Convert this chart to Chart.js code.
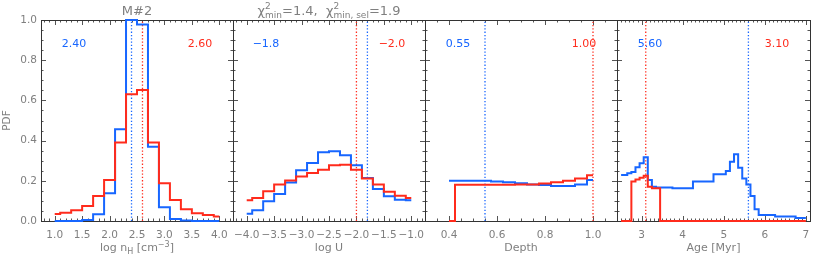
<!DOCTYPE html>
<html>
<head>
<meta charset="utf-8">
<script src="https://cdn.jsdelivr.net/npm/chart.js@4.4.1/dist/chart.umd.min.js"></script>
<style>
  body { margin: 0; background: #fff; }
  #wrap { position: relative; width: 830px; height: 261px; }
  #wrap canvas { position: absolute; left: 0; top: 0; }
</style>
</head>
<body>
<div id="wrap">
  <canvas id="c1" width="830" height="261"></canvas>
  <canvas id="c2" width="830" height="261"></canvas>
  <canvas id="c3" width="830" height="261"></canvas>
  <canvas id="c4" width="830" height="261"></canvas>
</div>
<script>
// log nH panel
const nhX    = [1.0, 1.2, 1.4, 1.6, 1.8, 2.0, 2.2, 2.4, 2.6, 2.8, 3.0, 3.2, 3.4, 3.6, 3.8, 4.0];
const nhBlue = [0.0, 0.0, 0.0, 0.005, 0.033, 0.138, 0.457, 1.0, 0.978, 0.37, 0.068, 0.01, 0.003, 0.0, 0.0, 0.0];
const nhRed  = [0.035, 0.041, 0.053, 0.075, 0.124, 0.204, 0.39, 0.63, 0.652, 0.39, 0.188, 0.104, 0.058, 0.038, 0.030, 0.023];
const nhTicks = [1.0, 1.5, 2.0, 2.5, 3.0, 3.5, 4.0];
const nhMed = [2.40, 2.60];

// log U panel
const uX    = [-4.0, -3.8, -3.6, -3.4, -3.2, -3.0, -2.8, -2.6, -2.4, -2.2, -2.0, -1.8, -1.6, -1.4, -1.2, -1.0];
const uBlue = [0.036, 0.053, 0.098, 0.134, 0.192, 0.252, 0.289, 0.342, 0.347, 0.327, 0.277, 0.214, 0.159, 0.123, 0.106, 0.103];
const uRed  = [0.103, 0.114, 0.148, 0.181, 0.202, 0.222, 0.239, 0.255, 0.277, 0.280, 0.255, 0.211, 0.181, 0.145, 0.126, 0.114];
const uTicks = [-4.0, -3.5, -3.0, -2.5, -2.0, -1.5, -1.0];
const uMed = [-1.8, -2.0];

// depth panel
const depthX    = [0.40, 0.45, 0.50, 0.55, 0.60, 0.65, 0.70, 0.75, 0.80, 0.85, 0.90, 0.95, 1.00];
const depthBlue = [0.200, 0.200, 0.200, 0.200, 0.196, 0.193, 0.188, 0.182, 0.179, 0.174, 0.174, 0.182, 0.204];
const depthRed  = [0.0, 0.180, 0.180, 0.180, 0.180, 0.180, 0.181, 0.182, 0.186, 0.193, 0.200, 0.212, 0.228];
const depthTicks = [0.4, 0.6, 0.8, 1.0];
const depthMed = [0.55, 1.00];

// age panel
const ageX = [2.5, 2.6, 2.7, 2.8, 2.9, 3.0, 3.1, 3.2, 3.3, 3.4, 3.5, 3.6, 3.7, 3.8, 3.9, 4.0,
              4.1, 4.2, 4.3, 4.4, 4.5, 4.6, 4.7, 4.8, 4.9, 5.0, 5.1, 5.2, 5.3, 5.4, 5.5, 5.6,
              5.7, 5.8, 5.9, 6.0, 6.1, 6.2, 6.3, 6.4, 6.5, 6.6, 6.7, 6.8, 6.9, 7.0];
const ageBlue = [0.229, 0.229, 0.237, 0.244, 0.267, 0.287, 0.317, 0.204, 0.171, 0.167, 0.167, 0.167, 0.167, 0.163, 0.163, 0.163,
                 0.163, 0.163, 0.196, 0.196, 0.196, 0.196, 0.196, 0.232, 0.232, 0.232, 0.249, 0.295, 0.332, 0.265, 0.212, 0.182,
                 0.124, 0.058, 0.030, 0.030, 0.030, 0.030, 0.022, 0.022, 0.022, 0.022, 0.022, 0.015, 0.015, 0.015];
const ageRed  = [0.0, 0.0, 0.0, 0.196, 0.207, 0.215, 0.225, 0.171, 0.163, 0.163, 0.0, 0.0, 0.0, 0.0, 0.0, 0.0,
                 0.0, 0.0, 0.0, 0.0, 0.0, 0.0, 0.0, 0.0, 0.0, 0.0, 0.0, 0.0, 0.0, 0.0, 0.0, 0.0,
                 0.0, 0.0, 0.0, 0.0, 0.0, 0.0, 0.0, 0.0, 0.0, 0.0, 0.0, 0.0, 0.0, 0.0];
const ageTicks = [3, 4, 5, 6, 7];
const ageMed = [5.60, 3.10];

const pdfTicks = [0.0, 0.2, 0.4, 0.6, 0.8, 1.0];

const BLUE = '#1766ff';
const RED = '#ff2b1c';
const GREY = '#7f7f7f';
const FONT = '"DejaVu Sans", sans-serif';

// panel boxes in page pixels
const LEFTS = [41, 233, 425, 617];
const RIGHTS = [233, 425, 617, 810];
const TOP = 20, BOTTOM = 221;

function minorList(min, max, step) {
    const out = [];
    for (let v = Math.ceil(min / step - 1e-6) * step; v <= max + 1e-9; v += step) out.push(v);
    return out;
}

function drawRich(ctx, segs, cx, base) {
    const widths = segs.map(s => {
        ctx.font = `${s.s}px ${FONT}`;
        if (s.t !== undefined) return ctx.measureText(s.t).width;
        return Math.max(ctx.measureText(s.sup).width, ctx.measureText(s.sub).width);
    });
    const total = widths.reduce((a, b) => a + b, 0);
    let x = cx - total / 2;
    ctx.textAlign = 'left';
    ctx.textBaseline = 'alphabetic';
    segs.forEach((s, i) => {
        ctx.font = `${s.s}px ${FONT}`;
        if (s.t !== undefined) {
            ctx.fillText(s.t, x, base + (s.dy || 0));
        } else {
            ctx.fillText(s.sup, x, base - 6.5);
            ctx.fillText(s.sub, x, base + 3);
        }
        x += widths[i];
    });
}

const panelDecor = {
    id: 'panelDecor',
    beforeDatasetsDraw(chart, args, o) {
        const {ctx, chartArea: a} = chart;
        const xs = chart.scales.x, ys = chart.scales.y;
        ctx.save();
        ctx.lineWidth = 1;
        ctx.strokeStyle = '#555';
        ctx.beginPath();
        const vt = (v, len) => {
            const p = Math.round(xs.getPixelForValue(v)) + 0.5;
            ctx.moveTo(p, a.bottom); ctx.lineTo(p, a.bottom - len);
            ctx.moveTo(p, a.top); ctx.lineTo(p, a.top + len);
        };
        const ht = (v, len) => {
            const p = Math.round(ys.getPixelForValue(v)) + 0.5;
            ctx.moveTo(a.left, p); ctx.lineTo(a.left + len, p);
            ctx.moveTo(a.right, p); ctx.lineTo(a.right - len, p);
        };
        minorList(xs.min, xs.max, o.xMinor).forEach(v => vt(v, 2.5));
        o.xMajor.forEach(v => vt(v, 5));
        minorList(0, 1, 0.05).forEach(v => ht(v, 2.5));
        pdfTicks.forEach(v => ht(v, 5));
        ctx.stroke();
        ctx.strokeStyle = '#333';
        ctx.strokeRect(a.left + 0.5, a.top + 0.5, a.right - a.left, a.bottom - a.top);
        ctx.restore();
    },
    afterDraw(chart, args, o) {
        const {ctx, chartArea: a} = chart;
        const cx = (a.left + a.right) / 2;
        ctx.save();
        ctx.font = `11px ${FONT}`;
        ctx.textAlign = 'center';
        ctx.textBaseline = 'alphabetic';
        ctx.fillStyle = BLUE;
        ctx.fillText(o.labels[0], a.left + 33, 47);
        ctx.fillStyle = RED;
        ctx.fillText(o.labels[1], a.right - 33, 47);
        ctx.fillStyle = GREY;
        if (o.title) drawRich(ctx, o.title, cx, 15);
        drawRich(ctx, o.xTitle, cx, 251);
        ctx.restore();
    }
};

function makePanel(id, i, p) {
    const pts = (xs, ys) => xs.map((x, k) => ({x: x, y: ys[k]}));
    const hist = (data, color) => ({
        data: data, borderColor: color, borderWidth: 2, stepped: 'middle',
        pointRadius: 0, fill: false, clip: 4
    });
    const med = (v, color) => ({
        data: [{x: v, y: 0}, {x: v, y: 1}], borderColor: color, borderWidth: 1.3,
        borderDash: [1.3, 2], pointRadius: 0, fill: false, clip: 4
    });
    const first = i === 0;
    return new Chart(document.getElementById(id), {
        type: 'line',
        data: {
            datasets: [
                hist(pts(p.xs, p.red), RED),
                hist(pts(p.xs, p.blue), BLUE),
                med(p.med[0], BLUE),
                med(p.med[1], RED)
            ]
        },
        options: {
            responsive: false,
            animation: false,
            events: [],
            layout: {
                padding: {left: first ? 0 : LEFTS[i], right: 830 - RIGHTS[i], top: TOP, bottom: 0}
            },
            plugins: {
                legend: {display: false},
                tooltip: {enabled: false},
                panelDecor: {
                    labels: p.labels, title: p.title, xTitle: p.xTitle,
                    xMajor: p.ticks, xMinor: p.minor
                }
            },
            scales: {
                x: {
                    type: 'linear', min: p.range[0], max: p.range[1],
                    grid: {display: false, drawTicks: false},
                    border: {display: false},
                    afterBuildTicks: s => { s.ticks = p.ticks.map(v => ({value: v})); },
                    afterFit: s => { s.height = 261 - BOTTOM; s.paddingLeft = 0; s.paddingRight = 0; },
                    ticks: {
                        autoSkip: false, maxRotation: 0, padding: 8, color: GREY,
                        font: {family: FONT, size: 10.5},
                        callback: p.fmt
                    }
                },
                y: {
                    type: 'linear', min: 0, max: 1.0,
                    display: first,
                    grid: {display: false, drawTicks: false},
                    border: {display: false},
                    afterBuildTicks: s => { s.ticks = pdfTicks.map(v => ({value: v})); },
                    afterFit: s => { s.width = first ? LEFTS[0] : 0; s.paddingTop = 0; s.paddingBottom = 0; },
                    title: {display: true, text: 'PDF', color: GREY, font: {family: FONT, size: 10.5}, padding: {top: 1, bottom: 0}},
                    ticks: {
                        padding: 4, color: GREY,
                        font: {family: FONT, size: 10.5},
                        callback: v => v.toFixed(1)
                    }
                }
            }
        },
        plugins: [panelDecor]
    });
}

const minus = v => (v < 0 ? '\u2212' : '') + Math.abs(v).toFixed(1);

makePanel('c1', 0, {
    xs: nhX, blue: nhBlue, red: nhRed, med: nhMed, ticks: nhTicks, minor: 0.1,
    range: [0.75, 4.25], fmt: v => v.toFixed(1),
    labels: [nhMed[0].toFixed(2), nhMed[1].toFixed(2)],
    title: [{t: 'M#2', s: 13}],
    xTitle: [{t: 'log n', s: 11}, {t: 'H', s: 8, dy: 2.5}, {t: ' [cm', s: 11}, {t: '\u22123', s: 8, dy: -4.5}, {t: ']', s: 11}]
});

makePanel('c2', 1, {
    xs: uX, blue: uBlue, red: uRed, med: uMed, ticks: uTicks, minor: 0.1,
    range: [-4.25, -0.75], fmt: minus,
    labels: [minus(uMed[0]), minus(uMed[1])],
    title: [{t: '\u03c7', s: 13}, {sup: '2', sub: 'min', s: 9}, {t: '=1.4,  ', s: 13},
            {t: '\u03c7', s: 13}, {sup: '2', sub: 'min, sel', s: 9}, {t: '=1.9', s: 13}],
    xTitle: [{t: 'log U', s: 11}]
});

makePanel('c3', 2, {
    xs: depthX, blue: depthBlue, red: depthRed, med: depthMed, ticks: depthTicks, minor: 0.05,
    range: [0.3, 1.1], fmt: v => v.toFixed(1),
    labels: [depthMed[0].toFixed(2), depthMed[1].toFixed(2)],
    xTitle: [{t: 'Depth', s: 11}]
});

makePanel('c4', 3, {
    xs: ageX, blue: ageBlue, red: ageRed, med: ageMed, ticks: ageTicks, minor: 0.1,
    range: [2.4, 7.1], fmt: v => String(v),
    labels: [ageMed[0].toFixed(2), ageMed[1].toFixed(2)],
    xTitle: [{t: 'Age [Myr]', s: 11}]
});
</script>
</body>
</html>
